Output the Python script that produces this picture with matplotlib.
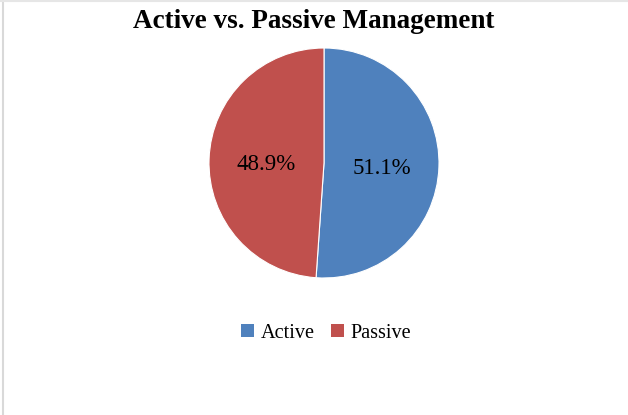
import matplotlib.pyplot as plt
from matplotlib.patches import Patch

labels = ['Active', 'Passive']
shares = [51.1, 48.9]
colors = ['#4F81BD', '#C0504D']

plt.rcParams['font.family'] = ['Liberation Serif', 'DejaVu Serif']

fig = plt.figure(figsize=(6.28, 4.15), dpi=100)
fig.patch.set_facecolor('white')

# faint frame on the left/top like the source screenshot
frame = fig.add_axes([0, 0, 1, 1])
frame.set_axis_off()
frame.plot([0.004, 0.004], [0, 1], color='#d9d9d9', lw=1.5, transform=frame.transAxes)
frame.plot([0, 1], [0.997, 0.997], color='#e6e6e6', lw=1.5, transform=frame.transAxes)

cx, cy, r = 324, 163, 115
ax = fig.add_axes([(cx - r) / 628, (415 - cy - r) / 415, 2 * r / 628, 2 * r / 415])
wedges, texts, autotexts = ax.pie(shares, colors=colors, startangle=90, counterclock=False,
                                  autopct='%.1f%%', pctdistance=0.5,
                                  wedgeprops=dict(edgecolor='white', linewidth=0.8),
                                  textprops=dict(fontsize=16.5, color='black'))
# nudge labels down a touch, like the excel output
for t in autotexts:
    x, y = t.get_position()
    t.set_position((x, y - 0.03))
ax.set_xlim(-1, 1)
ax.set_ylim(-1, 1)
ax.set_aspect('equal')

fig.text(0.5, 0.948, 'Active vs. Passive Management', ha='center', va='center',
         fontsize=19.5, fontweight='bold')

handles = [Patch(facecolor=c, edgecolor='none') for c in colors]
fig.legend(handles, labels, loc='center', bbox_to_anchor=(0.519, 0.197),
           ncol=2, frameon=False, fontsize=14.6, handlelength=0.65, handleheight=0.65,
           handletextpad=0.3, columnspacing=0.8)

fig.savefig('out.png', dpi=100)
